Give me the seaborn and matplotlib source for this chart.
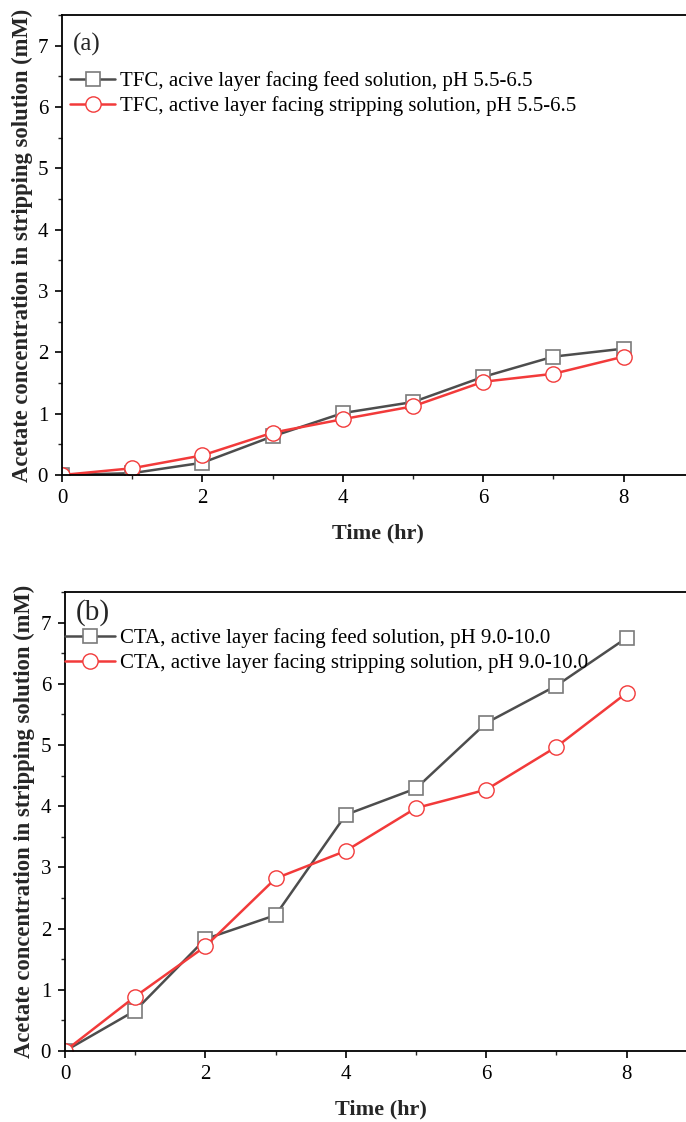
import matplotlib
matplotlib.use("Agg")
import matplotlib.pyplot as plt
import seaborn as sns
import pandas as pd
from matplotlib.ticker import MultipleLocator

time_hr = [0, 1, 2, 3, 4, 5, 6, 7, 8]
tfc_feed = [0.0, 0.03, 0.20, 0.63, 1.01, 1.19, 1.60, 1.93, 2.06]
tfc_strip = [0.0, 0.11, 0.32, 0.69, 0.91, 1.12, 1.52, 1.65, 1.93]
cta_feed = [0.0, 0.66, 1.83, 2.22, 3.86, 4.29, 5.36, 5.97, 6.75]
cta_strip = [0.0, 0.89, 1.71, 2.82, 3.27, 3.97, 4.27, 4.97, 5.85]

labels_a = ["TFC, acive layer facing feed solution, pH 5.5-6.5",
            "TFC, active layer facing stripping solution, pH 5.5-6.5"]
labels_b = ["CTA, active layer facing feed solution, pH 9.0-10.0",
            "CTA, active layer facing stripping solution, pH 9.0-10.0"]
panel_tags = ["(a)", "(b)"]

sns.set_theme(style="ticks")
plt.rcParams['font.family'] = ['Liberation Serif', 'DejaVu Serif']
plt.rcParams['mathtext.fontset'] = 'stix'

GRAY = "#4d4d4d"
GRAY_M = "#7a7a7a"
RED = "#f23a3a"

fig = plt.figure(figsize=(6.86, 11.22), dpi=100)
ax_a = fig.add_axes([62/686, (1122-475)/1122, (9*70.2)/686, (475-15)/1122])
ax_b = fig.add_axes([65/686, (1122-1051)/1122, (9*70.2)/686, (1051-592)/1122])

def draw(ax, feed, strip, labels, tag, tag_y, tag_fs, legend_xy, hlen, ylab_x):
    df = pd.DataFrame({"t": time_hr * 2, "c": feed + strip,
                       "s": [labels[0]] * len(time_hr) + [labels[1]] * len(time_hr)})
    sns.lineplot(data=df[df.s == labels[0]], x="t", y="c", ax=ax, color=GRAY,
                 marker="s", markersize=10, markerfacecolor="white",
                 markeredgecolor=GRAY_M, markeredgewidth=1.2, linewidth=1.8,
                 label=labels[0])
    sns.lineplot(data=df[df.s == labels[1]], x="t", y="c", ax=ax, color=RED,
                 marker="o", markersize=11, markerfacecolor="white",
                 markeredgecolor=RED, markeredgewidth=1.0, linewidth=1.8,
                 label=labels[1])
    ax.set_xlim(0, 9)
    ax.set_ylim(0, 7.5)
    ax.xaxis.set_major_locator(MultipleLocator(2))
    ax.xaxis.set_minor_locator(MultipleLocator(1))
    ax.yaxis.set_major_locator(MultipleLocator(1))
    ax.yaxis.set_minor_locator(MultipleLocator(0.5))
    ax.tick_params(which="major", direction="out", length=5, width=1.2,
                   labelsize=15, colors="black", top=False, right=False, pad=5)
    ax.tick_params(which="minor", direction="out", length=3, width=1.0,
                   top=False, right=False)
    for side in ["left", "bottom", "top", "right"]:
        ax.spines[side].set_visible(True)
        ax.spines[side].set_linewidth(1.3)
        ax.spines[side].set_color("black")
    ax.set_xlabel("Time (hr)", fontsize=16, fontweight="bold", labelpad=11)
    ax.set_ylabel("Acetate concentration in stripping solution (mM)",
                  fontsize=16.3, fontweight="bold")
    ax.yaxis.set_label_coords(ylab_x, 0.5)
    ax.text(0.15, tag_y, tag, fontsize=tag_fs, ha="left", va="center")
    leg = ax.legend(loc="upper left", bbox_to_anchor=legend_xy, frameon=False,
                    fontsize=15, handlelength=hlen, handletextpad=0.25,
                    labelspacing=0.23, borderaxespad=0)
    for t in leg.get_texts():
        t.set_color("black")

draw(ax_a, tfc_feed, tfc_strip, labels_a, panel_tags[0], 7.02, 18,
     (0.0, 0.8957), 2.15, -0.046)
draw(ax_b, cta_feed, cta_strip, labels_b, panel_tags[1], 7.17, 21,
     (-0.013, 0.939), 2.4, -0.0475)

fig.savefig("out.png", dpi=100)
